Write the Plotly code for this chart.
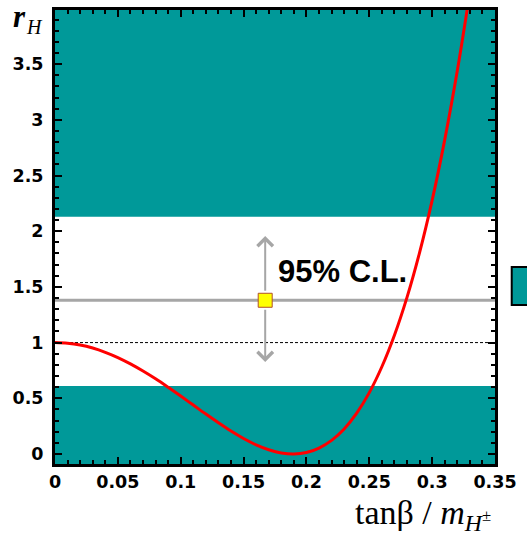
import plotly.graph_objects as go

# Predicted ratio r_H versus tanβ / m_H±
x_vals = [0.00, 0.01, 0.02, 0.03, 0.04, 0.05, 0.06, 0.07, 0.08, 0.09,
          0.10, 0.11, 0.12, 0.13, 0.14, 0.15, 0.16, 0.17, 0.18, 0.19,
          0.20, 0.21, 0.22, 0.23, 0.24, 0.25, 0.26, 0.27, 0.28, 0.29,
          0.30, 0.31, 0.32, 0.33]
r_vals = [1.000, 0.994, 0.978, 0.951, 0.913, 0.866, 0.809, 0.745, 0.675, 0.599,
          0.520, 0.439, 0.358, 0.280, 0.206, 0.139, 0.082, 0.038, 0.009, 0.000,
          0.013, 0.053, 0.122, 0.225, 0.367, 0.551, 0.783, 1.066, 1.406, 1.808,
          2.277, 2.820, 3.440, 4.145]

# Measurement and its 95% C.L. interval
meas_x = 0.1672
meas_r = 1.38
cl_low = 0.61
cl_high = 2.13
arrow_top = 1.957
arrow_bottom = 0.826
sm_value = 1.0

x_ticks = [0, 0.05, 0.1, 0.15, 0.2, 0.25, 0.3, 0.35]
x_tick_text = ["0", "0.05", "0.1", "0.15", "0.2", "0.25", "0.3", "0.35"]
y_ticks = [0, 0.5, 1, 1.5, 2, 2.5, 3, 3.5]
y_tick_text = ["0", "0.5", "1", "1.5", "2", "2.5", "3", "3.5"]

x_range = [0.0, 0.35]
y_range = [-0.09, 3.986]

teal = "#009999"
grey = "#A6A6A6"

fig = go.Figure()

shapes = [
    # excluded regions
    dict(type="rect", xref="x", yref="y", x0=x_range[0], x1=x_range[1],
         y0=cl_high, y1=y_range[1], fillcolor=teal, line_width=0, layer="below"),
    dict(type="rect", xref="x", yref="y", x0=x_range[0], x1=x_range[1],
         y0=y_range[0], y1=cl_low, fillcolor=teal, line_width=0, layer="below"),
    # central value line
    dict(type="line", xref="x", yref="y", x0=x_range[0], x1=x_range[1],
         y0=meas_r, y1=meas_r, line=dict(color=grey, width=3), layer="below"),
    # Standard Model expectation
    dict(type="line", xref="x", yref="y", x0=x_range[0], x1=x_range[1],
         y0=sm_value, y1=sm_value, line=dict(color="black", width=1, dash="3px,2px"),
         layer="below"),
    # legend swatch at the right edge
    dict(type="rect", xref="paper", yref="paper", x0=1.038, x1=1.2,
         y0=0.350, y1=0.434, fillcolor=teal, line=dict(color="black", width=2)),
]

fig.add_trace(go.Scatter(
    x=x_vals, y=r_vals, mode="lines", line=dict(color="#FF0000", width=3, shape="spline"),
    hoverinfo="skip", showlegend=False,
))

fig.add_trace(go.Scatter(
    x=[meas_x], y=[meas_r], mode="markers",
    marker=dict(symbol="square", size=14, color="#FFFF00",
                line=dict(color="#B0502A", width=1)),
    showlegend=False,
))

# invisible trace so the mirrored top/right axes are drawn with their ticks
fig.add_trace(go.Scatter(x=[None], y=[None], xaxis="x2", yaxis="y2",
                         showlegend=False, hoverinfo="skip"))

annotations = []
for tip in (arrow_top, arrow_bottom):
    annotations.append(dict(
        x=meas_x, y=tip, ax=meas_x, ay=meas_r, xref="x", yref="y", axref="x", ayref="y",
        text="", showarrow=True, arrowhead=4, arrowsize=1.5, arrowwidth=2,
        arrowcolor=grey, standoff=0, startstandoff=8,
    ))

serif = "Liberation Serif, Times New Roman, serif"
annotations += [
    dict(x=0.229, y=1.64, xref="x", yref="y", text="95% C.L.", showarrow=False,
         font=dict(family="Liberation Sans, Arial", size=31, color="black", weight="bold")),
    # y-axis title
    dict(x=-0.081, y=0.985, xref="paper", yref="paper", xanchor="center", yanchor="middle",
         text="<i>r</i>", showarrow=False,
         font=dict(family=serif, size=31, color="black", weight="bold")),
    dict(x=-0.047, y=0.962, xref="paper", yref="paper", xanchor="center", yanchor="middle",
         text="<i>H</i>", showarrow=False,
         font=dict(family=serif, size=20, color="black")),
    # x-axis title
    dict(x=0.995, y=-0.113, xref="paper", yref="paper", xanchor="right", yanchor="middle",
         text="tanβ / <i>m</i><sub><i>H</i><sup>±</sup></sub>", showarrow=False,
         font=dict(family=serif, size=34, color="black")),
]

tickfont = dict(family="DejaVu Sans", size=17.5, color="black", weight="bold")
common = dict(showgrid=False, zeroline=False, showline=True, linecolor="black",
              linewidth=3, ticks="inside", ticklen=7, tickwidth=1.5, tickcolor="black")

fig.update_layout(
    width=527, height=544,
    margin=dict(l=55, r=24, t=10, b=80),
    paper_bgcolor="white", plot_bgcolor="white",
    shapes=shapes, annotations=annotations,
    showlegend=False,
    xaxis=dict(
        range=x_range, tickvals=x_ticks, ticktext=x_tick_text,
        minor=dict(dtick=0.01, tick0=0, ticks="inside", ticklen=4, tickcolor="black", tickwidth=1.5),
        tickfont=tickfont, ticklabelstandoff=0, **common,
    ),
    yaxis=dict(
        range=y_range, tickvals=y_ticks, ticktext=y_tick_text,
        minor=dict(dtick=0.1, tick0=0, ticks="inside", ticklen=4, tickcolor="black", tickwidth=1.5),
        tickfont=tickfont, ticklabelstandoff=5, **common,
    ),
    xaxis2=dict(
        range=x_range, overlaying="x", side="top", anchor="y", tickvals=x_ticks,
        showticklabels=False,
        minor=dict(dtick=0.01, tick0=0, ticks="inside", ticklen=4, tickcolor="black", tickwidth=1.5),
        **common,
    ),
    yaxis2=dict(
        range=y_range, overlaying="y", side="right", anchor="x", tickvals=y_ticks,
        showticklabels=False,
        minor=dict(dtick=0.1, tick0=0, ticks="inside", ticklen=4, tickcolor="black", tickwidth=1.5),
        **common,
    ),
)

fig.write_html("out.html")
